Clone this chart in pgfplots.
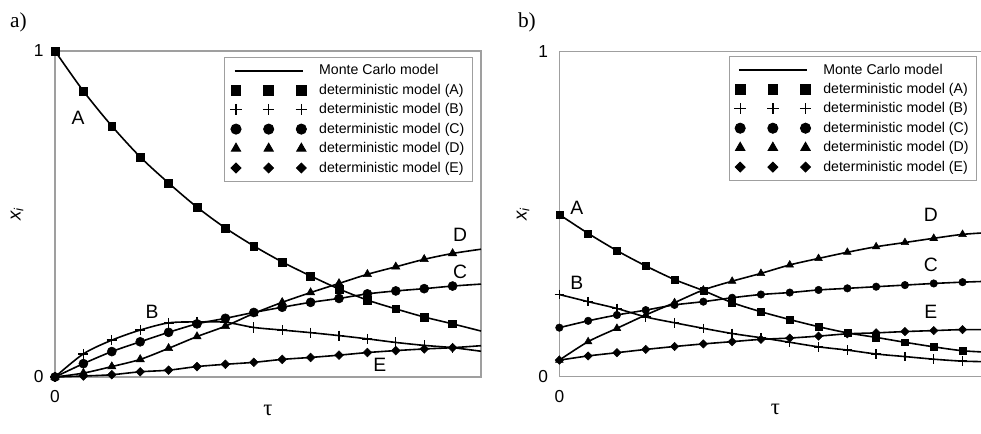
\documentclass[border=0pt]{standalone}
\usepackage{fontspec}
\setmainfont{Liberation Sans}
\newfontfamily\tnr{Liberation Serif}
\usepackage{pgfplots}
\usepackage{pgfplotstable}
\pgfplotsset{compat=1.18}

% columns: tau, x_A ... x_E  (row 15 only carries the Monte Carlo line)
\pgfplotstableread{
t  A     B     C     D     E
0  1.000 0.000 0.000 0.000 0.000
1  0.877 0.071 0.041 0.012 0.003
2  0.770 0.113 0.078 0.032 0.007
3  0.675 0.144 0.108 0.054 0.016
4  0.595 0.166 0.137 0.088 0.021
5  0.521 0.169 0.163 0.124 0.032
6  0.457 0.168 0.180 0.156 0.039
7  0.402 0.152 0.198 0.195 0.045
8  0.353 0.144 0.214 0.229 0.054
9  0.310 0.136 0.229 0.259 0.060
10 0.270 0.127 0.241 0.287 0.067
11 0.236 0.117 0.255 0.315 0.075
12 0.209 0.106 0.264 0.338 0.081
13 0.184 0.097 0.271 0.361 0.086
14 0.163 0.090 0.279 0.379 0.090
15 0.141 0.079 0.285 0.392 0.096
}\dataa

\pgfplotstableread{
t  A     B     C     D     E
0  0.499 0.253 0.151 0.051 0.051
1  0.441 0.231 0.172 0.108 0.064
2  0.388 0.210 0.190 0.149 0.074
3  0.341 0.184 0.205 0.190 0.084
4  0.299 0.166 0.221 0.228 0.093
5  0.265 0.149 0.231 0.267 0.101
6  0.228 0.133 0.243 0.294 0.108
7  0.200 0.120 0.253 0.318 0.115
8  0.176 0.106 0.259 0.344 0.119
9  0.154 0.092 0.267 0.364 0.125
10 0.135 0.082 0.272 0.383 0.132
11 0.121 0.070 0.277 0.400 0.135
12 0.106 0.062 0.282 0.413 0.139
13 0.092 0.054 0.287 0.426 0.142
14 0.080 0.048 0.291 0.438 0.145
15 0.075 0.046 0.294 0.444 0.145
}\datab

\tikzset{lbl/.style={font=\fontsize{14.5}{14.5}\selectfont}}
\pgfplotsset{
  mc/.style={black, line width=1.2pt, smooth, no markers, forget plot},
  dm/.style={black, only marks, forget plot, restrict x to domain=0:14},
  dia/.style={mark=square*, mark options={rotate=45}},
  pls/.style={mark=+, mark options={line width=1pt}},
  panel/.style={
    scale only axis, xmin=0, xmax=15, ymin=0, ymax=1, clip=false,
    xtick={0}, ytick={0,1}, major tick length=0pt,
    axis line style={gray!75, line width=0.8pt},
    /pgf/number format/assume math mode=true,
    tick label style={font=\fontsize{13}{13}\selectfont},
    yticklabel style={xshift=-5pt},
    xticklabel style={yshift=-6.5pt},
    xlabel={\tnr\fontsize{17}{17}\selectfont τ},
    ylabel={\fontsize{14}{14}\selectfont\itshape x\textsubscript{i}},
    legend cell align=left,
    legend style={draw=gray!75, line width=0.7pt, anchor=north east,
      font=\fontsize{10.6}{12}\selectfont, row sep=1.4pt,
      inner xsep=4pt, inner ysep=3.5pt},
  },
  mclegend/.style={legend image code/.code={
      \draw[black, line width=1.2pt] (-1pt,0pt) -- (50pt,0pt);
      \path (60pt,0pt);}},
  dmlegend/.style={legend image code/.code={
      \draw[##1] plot[only marks] coordinates
        {(0pt,0pt) (24.5pt,0pt) (49pt,0pt)};
      \path (60pt,0pt);}},
}

\begin{document}
\begin{tikzpicture}
% ---------------- a) ----------------
\begin{axis}[panel, at={(41.25pt,42pt)}, anchor=south west,
  width=319.5pt, height=244.5pt,
  xlabel style={at={(axis description cs:0.5,-0.101)}, anchor=center},
  ylabel style={at={(axis description cs:-0.089,0.5)}, anchor=center},
  legend style={at={(axis description cs:0.981,0.982)}}]
\addplot[mc] table[x=t,y=A] {\dataa};
\addplot[mc] table[x=t,y=B] {\dataa};
\addplot[mc] table[x=t,y=C] {\dataa};
\addplot[mc] table[x=t,y=D] {\dataa};
\addplot[mc] table[x=t,y=E] {\dataa};
\addplot[dm, mark=square*, mark size=2.9pt] table[x=t,y=A] {\dataa};
\addplot[dm, pls, mark size=3.8pt] table[x=t,y=B] {\dataa};
\addplot[dm, mark=*, mark size=3.4pt] table[x=t,y=C] {\dataa};
\addplot[dm, mark=triangle*, mark size=3.6pt] table[x=t,y=D] {\dataa};
\addplot[dm, dia, mark size=2.3pt] table[x=t,y=E] {\dataa};
\addlegendimage{mclegend}
\addlegendentry{Monte Carlo model}
\addlegendimage{dmlegend, black, mark=square*, mark size=3.6pt}
\addlegendentry{deterministic model (A)}
\addlegendimage{dmlegend, black, pls, mark size=4.3pt}
\addlegendentry{deterministic model (B)}
\addlegendimage{dmlegend, black, mark=*, mark size=3.8pt}
\addlegendentry{deterministic model (C)}
\addlegendimage{dmlegend, black, mark=triangle*, mark size=4pt}
\addlegendentry{deterministic model (D)}
\addlegendimage{dmlegend, black, dia, mark size=2.6pt}
\addlegendentry{deterministic model (E)}
\node[lbl] at (axis cs:0.81,0.794) {A};
\node[lbl] at (axis cs:3.42,0.199) {B};
\node[lbl] at (axis cs:14.26,0.322) {C};
\node[lbl] at (axis cs:14.26,0.436) {D};
\node[lbl] at (axis cs:11.44,0.037) {E};
\end{axis}
% ---------------- b) ----------------
\begin{axis}[panel, at={(419.5pt,42.2pt)}, anchor=south west,
  width=324pt, height=243.75pt,
  xlabel style={at={(axis description cs:0.5,-0.102)}, anchor=center},
  ylabel style={at={(axis description cs:-0.084,0.5)}, anchor=center},
  legend style={at={(axis description cs:0.967,0.987)}}]
\addplot[mc] table[x=t,y=A] {\datab};
\addplot[mc] table[x=t,y=B] {\datab};
\addplot[mc] table[x=t,y=C] {\datab};
\addplot[mc] table[x=t,y=D] {\datab};
\addplot[mc] table[x=t,y=E] {\datab};
\addplot[dm, mark=square*, mark size=2.6pt] table[x=t,y=A] {\datab};
\addplot[dm, pls, mark size=3.6pt] table[x=t,y=B] {\datab};
\addplot[dm, mark=*, mark size=2.8pt] table[x=t,y=C] {\datab};
\addplot[dm, mark=triangle*, mark size=3.3pt] table[x=t,y=D] {\datab};
\addplot[dm, dia, mark size=2.2pt] table[x=t,y=E] {\datab};
\addlegendimage{mclegend}
\addlegendentry{Monte Carlo model}
\addlegendimage{dmlegend, black, mark=square*, mark size=3.6pt}
\addlegendentry{deterministic model (A)}
\addlegendimage{dmlegend, black, pls, mark size=4.3pt}
\addlegendentry{deterministic model (B)}
\addlegendimage{dmlegend, black, mark=*, mark size=3.8pt}
\addlegendentry{deterministic model (C)}
\addlegendimage{dmlegend, black, mark=triangle*, mark size=4pt}
\addlegendentry{deterministic model (D)}
\addlegendimage{dmlegend, black, dia, mark size=2.6pt}
\addlegendentry{deterministic model (E)}
\node[lbl] at (axis cs:0.61,0.519) {A};
\node[lbl] at (axis cs:0.61,0.288) {B};
\node[lbl] at (axis cs:12.9,0.344) {C};
\node[lbl] at (axis cs:12.9,0.498) {D};
\node[lbl] at (axis cs:12.9,0.199) {E};
\end{axis}
\node[anchor=west, font=\tnr\fontsize{16}{16}\selectfont] at (4pt,307.9pt) {a)};
\node[anchor=west, font=\tnr\fontsize{16}{16}\selectfont] at (385pt,307.9pt) {b)};
\pgfresetboundingbox
\useasboundingbox (0pt,0pt) rectangle (735.75pt,324.75pt);
\end{tikzpicture}
\end{document}
